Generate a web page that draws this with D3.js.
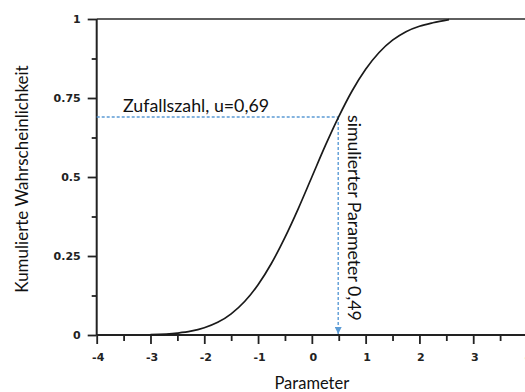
<!DOCTYPE html>
<html>
<head>
<meta charset="utf-8">
<script src="https://cdn.jsdelivr.net/npm/d3@7"></script>
<style>
  body { margin: 0; background: #fff; }
  text { font-family: Lato, "Open Sans", sans-serif; }
</style>
</head>
<body>
<div id="chart"></div>
<script>
// Werte
const paramX = [-3, -2.5, -2.25, -2, -1.75, -1.5, -1.25, -1, -0.75, -0.5, -0.25, 0, 0.25, 0.5, 0.75, 1, 1.25, 1.5, 1.75, 2, 2.25, 2.55]
const cumY   = [0.001, 0.006, 0.012, 0.023, 0.04, 0.067, 0.106, 0.159, 0.227, 0.309, 0.401, 0.5, 0.599, 0.691, 0.773, 0.841, 0.894, 0.933, 0.96, 0.977, 0.988, 0.998]
const xTicks = [-4, -3, -2, -1, 0, 1, 2, 3, 4]
const xMinor = [-3.5, -2.5, -1.5, -0.5, 0.5, 1.5, 2.5, 3.5]
const yTicks = [0, 0.25, 0.5, 0.75, 1]
const yTickLabels = ['0', '0.25', '0.5', '0.75', '1']
const yMinor = [0.125, 0.375, 0.625, 0.875]
const uValue = 0.69
const simParam = 0.49

const width = 525, height = 392
const x = d3.scaleLinear().domain([-4, 4]).range([96.7, 527])
const y = d3.scaleLinear().domain([0, 1]).range([335, 19])

let svg = d3.select('#chart').append('svg')
    .attr('width', width)
    .attr('height', height)

// top frame line at y=1
svg.append('line')
    .attr('x1', x(-4)).attr('x2', width)
    .attr('y1', y(1)).attr('y2', y(1))
    .attr('stroke', '#2a2a2a').attr('stroke-width', 1.5)

// axes
let yAxis = svg.append('g')
    .attr('transform', `translate(${x(-4)},0)`)
    .call(d3.axisLeft(y).tickValues(yTicks).tickSize(9).tickPadding(7)
        .tickFormat((d, i) => yTickLabels[i]))
let yAxisMinor = svg.append('g')
    .attr('transform', `translate(${x(-4)},0)`)
    .call(d3.axisLeft(y).tickValues(yMinor).tickSize(5).tickFormat(''))

let xAxis = svg.append('g')
    .attr('transform', `translate(0,${y(0)})`)
    .call(d3.axisBottom(x).tickValues(xTicks).tickSize(9).tickPadding(9)
        .tickFormat(d => d))
let xAxisMinor = svg.append('g')
    .attr('transform', `translate(0,${y(0)})`)
    .call(d3.axisBottom(x).tickValues(xMinor).tickSize(6).tickFormat(''))

svg.selectAll('.domain').remove()
svg.selectAll('.tick line').attr('stroke', '#222').attr('stroke-width', 1.8)
svg.selectAll('.tick text')
    .attr('fill', '#222')
    .style('font-family', '"DejaVu Sans", sans-serif')
    .style('font-weight', 'bold')
    .style('font-size', '11px')
xAxis.selectAll('.tick text').attr('dx', '1')

svg.append('line')
    .attr('x1', x(-4)).attr('x2', x(-4))
    .attr('y1', y(1)).attr('y2', y(0))
    .attr('stroke', '#222').attr('stroke-width', 2)
svg.append('line')
    .attr('x1', x(-4)).attr('x2', width)
    .attr('y1', y(0)).attr('y2', y(0))
    .attr('stroke', '#222').attr('stroke-width', 2)

// dashed guide lines
const guideColor = '#5b9bd5'
svg.append('defs').append('marker')
    .attr('id', 'arrow')
    .attr('viewBox', '0 0 10 10')
    .attr('refX', 10).attr('refY', 5)
    .attr('markerWidth', 5).attr('markerHeight', 5)
    .attr('orient', 'auto')
    .append('path')
    .attr('d', 'M0,0L10,5L0,10Z')
    .attr('fill', guideColor)

svg.append('line')
    .attr('x1', x(-4)).attr('x2', x(simParam))
    .attr('y1', y(uValue)).attr('y2', y(uValue))
    .attr('stroke', guideColor).attr('stroke-width', 1.4)
    .attr('stroke-dasharray', '3,2')
svg.append('line')
    .attr('x1', x(simParam)).attr('x2', x(simParam))
    .attr('y1', y(uValue)).attr('y2', y(0) - 1)
    .attr('stroke', guideColor).attr('stroke-width', 1.4)
    .attr('stroke-dasharray', '3,2')
    .attr('marker-end', 'url(#arrow)')

// curve
let line = d3.line()
    .x((d, i) => x(paramX[i]))
    .y(d => y(d))
    .curve(d3.curveMonotoneX)
svg.append('path')
    .datum(cumY)
    .attr('d', line)
    .attr('fill', 'none')
    .attr('stroke', '#1a1a1a')
    .attr('stroke-width', 1.7)

// annotations
svg.append('text')
    .attr('x', 123).attr('y', 112)
    .attr('font-size', 17.8)
    .attr('fill', '#111')
    .text('Zufallszahl, u=0,69')

svg.append('text')
    .attr('transform', `translate(348,115) rotate(90)`)
    .attr('font-size', 17.7)
    .attr('fill', '#111')
    .text('simulierter Parameter 0,49')

svg.append('text')
    .attr('transform', `translate(28,179) rotate(-90)`)
    .attr('text-anchor', 'middle')
    .attr('font-size', 17)
    .attr('fill', '#111')
    .text('Kumulierte Wahrscheinlichkeit')

svg.append('text')
    .attr('x', x(0)).attr('y', 388.5)
    .attr('text-anchor', 'middle')
    .attr('font-size', 16.5)
    .attr('fill', '#111')
    .text('Parameter')
</script>
</body>
</html>
